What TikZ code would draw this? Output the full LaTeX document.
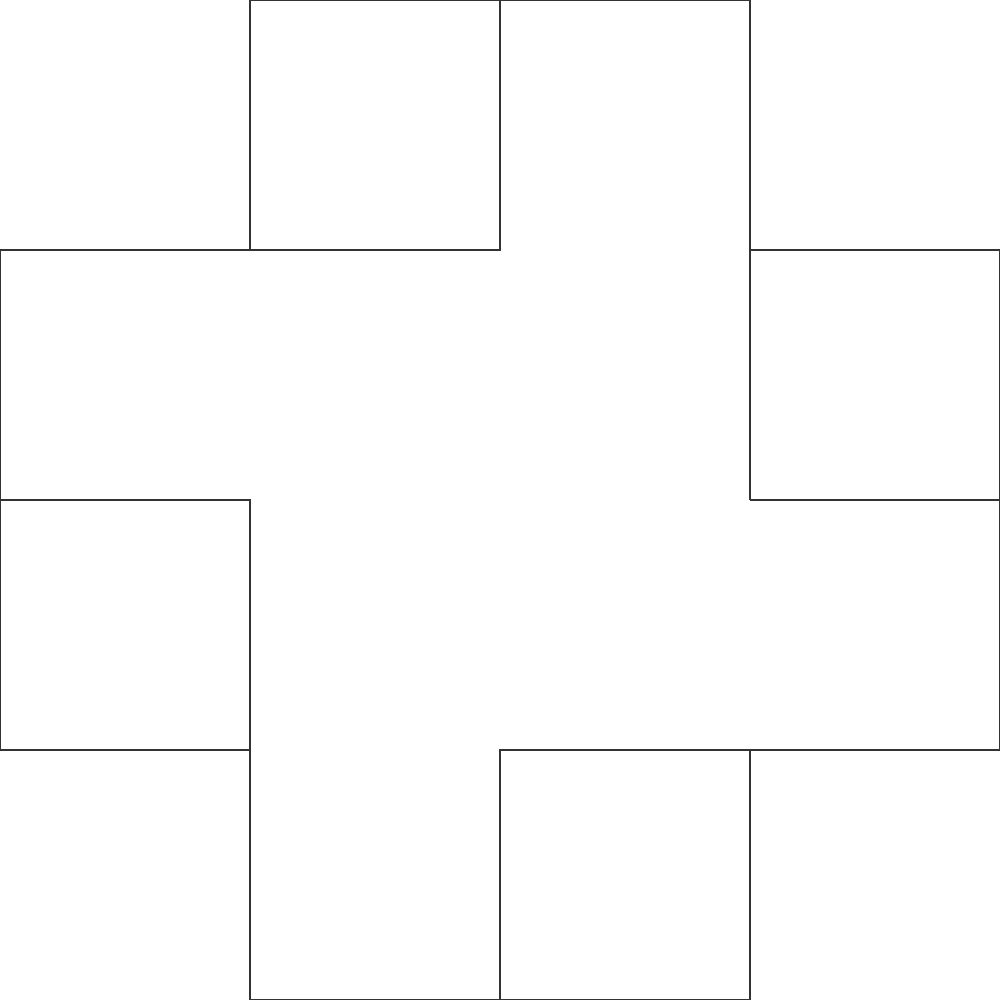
\documentclass[tikz,border=0pt]{standalone}
\begin{document}
\begin{tikzpicture}[x=2.5cm,y=-2.5cm,edge/.style={draw=black!80,line width=0.35pt}]
\useasboundingbox (0,0) rectangle (4,4);
% top: y=0 rows
\draw[edge] (1,1) -- (1,0) -- (3,0) -- (3,2);
\draw[edge] (2,0) -- (2,1) -- (0,1) -- (0,3) -- (1,3) -- (1,4) -- (3,4) -- (3,3);
\draw[edge] (0,2) -- (1,2) -- (1,3);
\draw[edge] (3,1) -- (4,1) -- (4,3) -- (2,3) -- (2,4);
\draw[edge] (3,2) -- (4,2);
\end{tikzpicture}
\end{document}
